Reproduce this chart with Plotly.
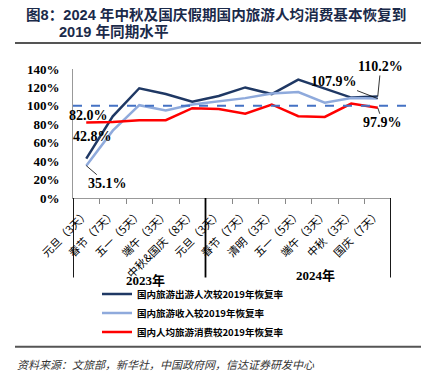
import plotly.graph_objects as go

categories = ["元旦（3天）", "春节（7天）", "五一（5天）", "端午（3天）", "中秋&国庆（8天）",
              "元旦（3天）", "春节（7天）", "清明（3天）", "五一（5天）", "端午（3天）",
              "中秋（3天）", "国庆（7天）"]
years = ["2023年", "2024年"]
trips = [42.8, 88.6, 119.1, 112.8, 104.5, 110.7, 120.0, 112.8, 128.5, 118.5, 109.0, 110.2]
revenue = [35.1, 73.1, 100.7, 94.9, 101.5, 105.2, 108.4, 113.5, 115.0, 103.5, 108.5, 107.9]
per_capita = [82.0, 82.5, 84.5, 84.5, 97.5, 96.5, 91.5, 101.5, 88.8, 88.0, 102.5, 97.9]
series_names = ["国内旅游出游人次较2019年恢复率", "国内旅游收入较2019年恢复率", "国内人均旅游消费较2019年恢复率"]
colors = ["#1F3864", "#8FAADC", "#FF0000"]

# page has an 8px body margin: the figure is offset by 8px
OFF = 8
W, H = 430 - OFF, 382 - OFF
L, R, T, B = 73, 391, 69, 197.7   # plot area in page pixels

def px(x):
    return (x - L) / (R - L)

def py(y):
    return (B - y) / (B - T)

SERIF = "Liberation Serif, Noto Sans CJK SC, serif"
CJK = "Noto Sans CJK SC, sans-serif"

xs = list(range(len(categories)))
fig = go.Figure()
for name, vals, c in zip(series_names, [trips, revenue, per_capita], colors):
    fig.add_trace(go.Scatter(x=xs, y=vals, mode="lines", name="<b>" + name + "</b>",
                             line=dict(color=c, width=2.5)))

fig.update_layout(
    width=W, height=H,
    margin=dict(l=L - OFF, r=430 - R, t=T - OFF, b=382 - B, autoexpand=False),
    paper_bgcolor="white", plot_bgcolor="white",
    showlegend=True,
    legend=dict(x=px(97), y=py(279), xanchor="left", yanchor="top",
                font=dict(family=CJK, size=9.5, color="black"),
                bgcolor="rgba(0,0,0,0)", tracegroupgap=0),
)
fig.update_xaxes(range=[-0.5, len(categories) - 0.5], tickvals=xs, ticktext=categories,
                 tickangle=-45, ticks="", showgrid=False, zeroline=False, automargin=False,
                 showline=True, linecolor="#999999", linewidth=1,
                 tickfont=dict(family=CJK, size=11, color="black"),
                 ticklabelstandoff=4,
                 minor=dict(tickvals=[i - 0.5 for i in range(1, len(categories))],
                            ticks="outside", ticklen=5, tickcolor="#888888", tickwidth=1))
fig.update_yaxes(range=[0, 140], dtick=20, ticksuffix="%", showgrid=False, zeroline=False,
                 showline=True, linecolor="#999999", linewidth=1, ticks="", automargin=False,
                 ticklabelstandoff=10,
                 tickfont=dict(family=SERIF, size=13, color="black", weight="bold"))

# 100% reference dashed line
fig.add_shape(type="line", xref="paper", yref="y", x0=0, x1=px(414), y0=100, y1=100,
              line=dict(color="#4472C4", width=2, dash="dash"))

# group separators
for b in [-0.5, 4.5, len(categories) - 0.5]:
    fig.add_shape(type="line", xref="x", yref="paper", x0=b, x1=b, y0=0, y1=py(277),
                  line=dict(color="black", width=1.8))

# year labels
for yr, cx, cy in [(years[0], 145, 280), (years[1], 315, 275)]:
    fig.add_annotation(xref="paper", yref="paper", x=px(cx), y=py(cy), xanchor="center",
                       yanchor="middle", text="<b>" + yr + "</b>", showarrow=False,
                       font=dict(family=SERIF, size=13, color="black"))

lab_font = dict(family=SERIF, size=14, color="black", weight="bold")
fig.add_annotation(x=0, y=per_capita[0], text=f"{per_capita[0]:.1f}%", showarrow=False,
                   xanchor="center", yanchor="middle", xshift=2, yshift=7, font=lab_font)
fig.add_annotation(x=0, y=trips[0], text=f"{trips[0]:.1f}%", showarrow=False,
                   xanchor="center", yanchor="middle", xshift=6, yshift=22, font=lab_font)
fig.add_annotation(x=0, y=revenue[0], text=f"{revenue[0]:.1f}%", showarrow=True, arrowhead=0,
                   arrowwidth=0.8, arrowcolor="black", ax=21, ay=18, font=lab_font)
n = len(categories) - 1
fig.add_annotation(x=n, y=revenue[n], text=f"{revenue[n]:.1f}%", showarrow=True, arrowhead=0,
                   arrowwidth=0.8, arrowcolor="black", ax=-44, ay=-17, font=lab_font)
fig.add_annotation(x=n, y=trips[n], text=f"{trips[n]:.1f}%", showarrow=True, arrowhead=0,
                   arrowwidth=0.8, arrowcolor="black", ax=3, ay=-30, font=lab_font)
fig.add_annotation(x=n, y=per_capita[n], text=f"{per_capita[n]:.1f}%", showarrow=True, arrowhead=0,
                   arrowwidth=0.8, arrowcolor="black", ax=5, ay=15, font=lab_font)

# title
title_font = dict(family="Liberation Sans, Noto Sans CJK SC, sans-serif", size=14.6, color="#1B2A4A")
fig.add_annotation(xref="paper", yref="paper", x=px(24), y=py(15), xanchor="left", yanchor="middle",
                   text="<b>图8：2024 年中秋及国庆假期国内旅游人均消费基本恢复到</b>",
                   showarrow=False, font=title_font)
fig.add_annotation(xref="paper", yref="paper", x=px(57), y=py(32), xanchor="left", yanchor="middle",
                   text="<b>2019 年同期水平</b>", showarrow=False, font=title_font)
fig.add_shape(type="line", xref="paper", yref="paper", x0=px(15), x1=px(421), y0=py(43), y1=py(43),
              line=dict(color="#555555", width=2))
fig.add_shape(type="line", xref="paper", yref="paper", x0=px(15), x1=px(421), y0=py(346), y1=py(346),
              line=dict(color="#555555", width=2))
fig.add_annotation(xref="paper", yref="paper", x=px(15), y=py(363), xanchor="left", yanchor="middle",
                   text="<i>资料来源：文旅部，新华社，中国政府网，信达证券研发中心</i>",
                   showarrow=False, font=dict(family=CJK, size=11, color="#333333"))

fig.write_html("out.html")
